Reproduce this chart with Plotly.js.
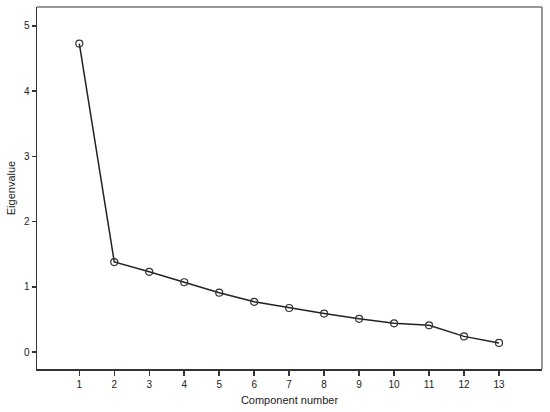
<!DOCTYPE html>
<html>
<head>
<meta charset="utf-8">
<script src="https://cdn.plot.ly/plotly-3.0.1.min.js"></script>
<style>
  html, body { margin: 0; padding: 0; background: #fff; }
  #scree { width: 550px; height: 412px; }
</style>
</head>
<body>
<div id="scree"></div>
<script>
// component numbers and their eigenvalues
var components = [1, 2, 3, 4, 5, 6, 7, 8, 9, 10, 11, 12, 13];
var eigenvalues = [4.73, 1.38, 1.23, 1.07, 0.91, 0.77, 0.675, 0.59, 0.51, 0.44, 0.41, 0.24, 0.14];
var xTicks = components;
var yTicks = [0, 1, 2, 3, 4, 5];

function screePlot() {
  var trace1 = {
    x: components,
    y: eigenvalues,
    type: 'scatter',
    mode: 'lines+markers',
    line: { color: '#222', width: 1.5 },
    marker: {
      symbol: 'circle-open',
      size: 7,
      color: '#333',
      line: { color: '#333', width: 1.2 }
    },
    hoverinfo: 'x+y'
  };

  var layout = {
    width: 550,
    height: 412,
    margin: { l: 37, r: 8, t: 7, b: 43 },
    paper_bgcolor: '#fff',
    plot_bgcolor: '#fff',
    showlegend: false,
    font: { family: 'Liberation Sans, Arial, sans-serif', size: 10, color: '#222' },
    xaxis: {
      title: { text: 'Component number', font: { size: 11, color: '#222' }, standoff: 8 },
      range: [-0.21, 14.23],
      tickvals: xTicks,
      ticktext: xTicks.map(String),
      ticks: 'outside',
      ticklen: 5,
      tickwidth: 1.5,
      tickcolor: '#333',
      showgrid: false,
      zeroline: false,
      showline: true,
      linecolor: '#333',
      linewidth: 1.5
    },
    yaxis: {
      title: { text: 'Eigenvalue', font: { size: 11, color: '#222' }, standoff: 6 },
      range: [-0.26, 5.29],
      tickvals: yTicks,
      ticktext: yTicks.map(String),
      ticks: 'outside',
      ticklen: 4,
      tickwidth: 1.5,
      tickcolor: '#333',
      showgrid: false,
      zeroline: false,
      showline: true,
      linecolor: '#333',
      linewidth: 1.5
    },
    shapes: [
      // gray top and right edges of the frame
      { type: 'line', xref: 'paper', yref: 'paper', x0: 0, x1: 1, y0: 1, y1: 1,
        line: { color: '#777', width: 1.5 } },
      { type: 'line', xref: 'paper', yref: 'paper', x0: 1, x1: 1, y0: 0, y1: 1,
        line: { color: '#777', width: 1.5 } }
    ]
  };

  Plotly.newPlot('scree', [trace1], layout, { displayModeBar: false, staticPlot: true });
}
screePlot();
</script>
</body>
</html>
